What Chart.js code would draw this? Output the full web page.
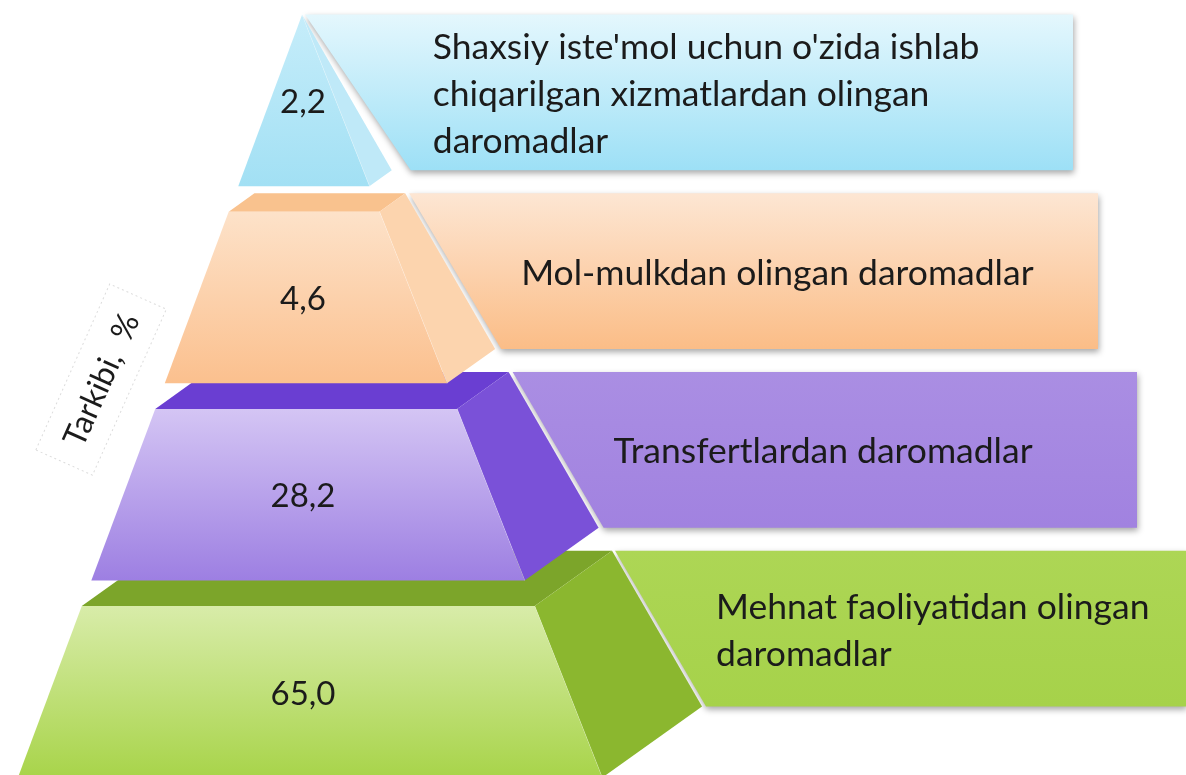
<!DOCTYPE html>
<html><head><meta charset="utf-8">
<script src="https://cdn.jsdelivr.net/npm/chart.js@4.4.1/dist/chart.umd.min.js"></script>
<style>html,body{margin:0;padding:0;background:#fff}#wrap{width:1186px;height:775px;position:relative}</style>
</head><body><div id="wrap"><canvas id="c"></canvas></div>
<script>
// ---- data ----
const categories = [
  ["Shaxsiy iste'mol uchun o'zida ishlab", "chiqarilgan xizmatlardan olingan", "daromadlar"],
  ["Mol-mulkdan olingan daromadlar"],
  ["Transfertlardan daromadlar"],
  ["Mehnat faoliyatidan olingan", "daromadlar"]
];
const values = [2.2, 4.6, 28.2, 65.0];
const axisTitle = "Tarkibi,  %";

// ---- styles ----
const tierStyles = [
  {front:['#c6edfa','#a2e0f4'], top:'#a9e2f5', side:'#bfe9f8', box:['#e4f7fd','#9de0f6'], rightInset:113, gapT:3, gapB:19, pad:22},
  {front:['#fde2c9','#fbc08e'], top:'#f9c28e', side:'#fcd4ae', box:['#fde6d3','#fbbd87'], rightInset:88,  gapT:4, gapB:6,  pad:20},
  {front:['#d4c5f4','#9d7fe2'], top:'#6a3ed2', side:'#7a51d8', box:['#aa8ee3','#a182e0'], rightInset:49,  gapT:4, gapB:5,  pad:10},
  {front:['#d8eca9','#a8d44a'], top:'#7ca52a', side:'#8bb72f', box:['#add655','#a6d24a'], rightInset:0,   gapT:3, gapB:4,  pad:10}
];
const FONT = 'Lato, "Open Sans", sans-serif';
const TEXT_COLOR = '#1b1b1b';
// front-plane outline of the pyramid (layout)
const shape = {apexX:302, apexY:15, baseY:772, baseL:20, baseR:600, k:0.122, slant:1.4};

function fmt(v){ return v.toFixed(1).replace('.', ','); }

const pyramidPlugin = {
  id:'pyramid',
  afterDatasetsDraw(chart){
    const ctx = chart.ctx;
    const meta = chart.getDatasetMeta(0);
    const s = shape;
    const span = s.baseY - s.apexY;
    const L = y => s.baseL + (s.baseY - y) * (s.apexX - s.baseL) / span;
    const R = y => s.baseR - (s.baseY - y) * (s.baseR - s.apexX) / span;
    const sw = (s.baseR - s.baseL) / span;
    const W = y => Math.max(0, sw * (y - s.apexY));
    const frontY = B => Math.max(s.apexY, (B - s.k * sw * s.apexY) / (1 - s.k * sw));
    const dep = y => { const dy = s.k * W(y); return {dx: s.slant * dy, dy}; };

    const geo = meta.data.map((el, i) => {
      const Bt = el.y - el.height / 2, Bb = el.y + el.height / 2;
      const ft = frontY(Bt), fb = frontY(Bb);
      const dt = dep(ft), db = dep(fb);
      const FTL = [L(ft), ft], FTR = [R(ft), ft], FBL = [L(fb), fb], FBR = [R(fb), fb];
      const BTL = [FTL[0] + dt.dx, Bt], BTR = [FTR[0] + dt.dx, Bt], BBR = [FBR[0] + db.dx, Bb];
      return {Bt, Bb, ft, fb, FTL, FTR, FBL, FBR, BTL, BTR, BBR};
    });

    const poly = (pts) => { ctx.beginPath(); pts.forEach((p, j) => j ? ctx.lineTo(p[0], p[1]) : ctx.moveTo(p[0], p[1])); ctx.closePath(); };
    const vgrad = (y0, y1, c) => { const g = ctx.createLinearGradient(0, y0, 0, y1); g.addColorStop(0, c[0]); g.addColorStop(1, c[1]); return g; };

    ctx.save();
    // label boxes (back)
    geo.forEach((g, i) => {
      const st = tierStyles[i];
      const right = chart.width - st.rightInset;
      ctx.save();
      ctx.shadowColor = 'rgba(0,0,0,0.35)';
      ctx.shadowBlur = 6; ctx.shadowOffsetX = 1; ctx.shadowOffsetY = 3;
      poly([[g.BTR[0] + st.gapT, g.Bt], [right, g.Bt], [right, g.Bb], [g.BBR[0] + st.gapB, g.Bb]]);
      ctx.fillStyle = vgrad(g.Bt, g.Bb, st.box);
      ctx.fill();
      ctx.restore();
    });
    // tiers bottom to top
    for (let i = geo.length - 1; i >= 0; i--) {
      const g = geo[i], st = tierStyles[i];
      if (g.FTR[0] - g.FTL[0] > 1) {
        poly([g.FTL, g.FTR, g.BTR, g.BTL]);
        ctx.fillStyle = st.top; ctx.fill();
      }
      poly([g.FTR, g.BTR, g.BBR, g.FBR]);
      ctx.fillStyle = st.side; ctx.fill();
      ctx.strokeStyle = 'rgba(255,255,255,0.5)'; ctx.lineWidth = 1;
      ctx.beginPath(); ctx.moveTo(g.FTR[0], g.FTR[1]); ctx.lineTo(g.FBR[0], g.FBR[1]); ctx.stroke();
      poly([g.FTL, g.FTR, g.FBR, g.FBL]);
      ctx.fillStyle = vgrad(g.ft, g.fb, st.front); ctx.fill();
    }
    // value labels
    ctx.fillStyle = TEXT_COLOR;
    ctx.textAlign = 'center'; ctx.textBaseline = 'middle';
    ctx.font = '33px ' + FONT;
    geo.forEach((g, i) => {
      ctx.fillText(fmt(values[i]), shape.apexX + 1, (g.ft + g.fb) / 2 + 2);
    });
    // category labels
    ctx.textAlign = 'left';
    ctx.font = '35.5px ' + FONT;
    const lh = 47;
    geo.forEach((g, i) => {
      const lines = categories[i];
      const x = g.BBR[0] + tierStyles[i].gapB + tierStyles[i].pad;
      const cy = (g.Bt + g.Bb) / 2 + 2;
      lines.forEach((ln, j) => ctx.fillText(ln, x, cy + (j - (lines.length - 1) / 2) * lh));
    });
    // axis title (rotated)
    ctx.save();
    ctx.translate(102, 380);
    ctx.rotate(-66 * Math.PI / 180);
    ctx.font = '32px ' + FONT;
    ctx.textAlign = 'center';
    const tw = ctx.measureText(axisTitle).width;
    ctx.setLineDash([2, 3]);
    ctx.strokeStyle = '#dcdcdc'; ctx.lineWidth = 1;
    ctx.strokeRect(-tw / 2 - 20, -32, tw + 40, 62);
    ctx.setLineDash([]);
    ctx.fillStyle = TEXT_COLOR;
    ctx.fillText(axisTitle, 0, 0);
    ctx.restore();
    ctx.restore();
  }
};

new Chart(document.getElementById('c'), {
  type: 'bar',
  data: {
    labels: categories,
    datasets: [{
      label: axisTitle,
      data: values,
      backgroundColor: 'rgba(0,0,0,0)',
      borderWidth: 0,
      barPercentage: 0.87,
      categoryPercentage: 1
    }]
  },
  options: {
    indexAxis: 'y',
    responsive: true,
    maintainAspectRatio: false,
    animation: false,
    layout: {padding: {top: 3, bottom: 57, left: 0, right: 0}},
    plugins: {legend: {display: false}, tooltip: {enabled: false}},
    scales: {
      x: {display: false, min: 0, max: 100},
      y: {display: false}
    }
  },
  plugins: [pyramidPlugin]
});
</script>
</body></html>
